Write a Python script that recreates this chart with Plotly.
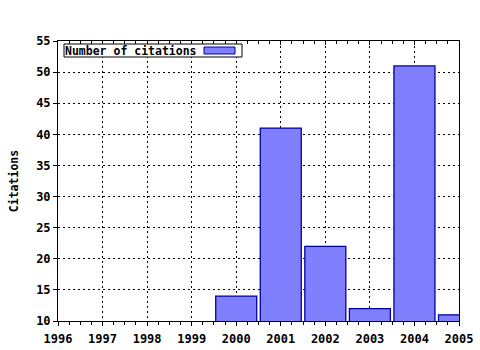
import plotly.graph_objects as go

years = [2000, 2001, 2002, 2003, 2004, 2005]
citations = [14, 41, 22, 12, 51, 11]
x_ticks = list(range(1996, 2006))
y_ticks = list(range(10, 56, 5))
series_name = "Number of citations"
y_title = "Citations"

FONT = dict(family="DejaVu Sans Mono", size=11.5, color="black", weight="bold")
TICKFONT = dict(family="DejaVu Sans Mono", size=12, color="black", weight="bold")

fig = go.Figure()
fig.add_trace(go.Bar(
    x=years, y=citations, width=0.92, name=series_name,
    marker=dict(color="#8080ff", line=dict(color="#0000a0", width=1.3)),
    showlegend=False,
))
fig.add_trace(go.Scatter(x=[1996, 2005], y=[10, 10], xaxis="x2", mode="markers",
                         marker=dict(opacity=0), showlegend=False, hoverinfo="skip"))

GRIDDASH = "2px,3px"
fig.update_layout(
    width=480, height=350,
    margin=dict(l=58, r=21, t=41, b=29, autoexpand=False),
    paper_bgcolor="white", plot_bgcolor="white",
    font=FONT,
    xaxis=dict(range=[1996, 2005], tickvals=x_ticks, ticktext=[str(v) for v in x_ticks],
               showgrid=True, gridcolor="black", griddash=GRIDDASH, gridwidth=1,
               ticks="outside", ticklen=4, tickcolor="black", ticklabelstandoff=3,
               minor=dict(dtick=0.25, ticks="outside", ticklen=3, tickcolor="black", showgrid=False),
               showline=True, linecolor="black", linewidth=1, mirror=True,
               zeroline=False, tickfont=TICKFONT, automargin=False),
    xaxis2=dict(range=[1996, 2005], overlaying="x", side="top", tickvals=x_ticks,
                showticklabels=False, ticks="inside", ticklen=4, tickcolor="black",
                minor=dict(dtick=0.25, ticks="inside", ticklen=3, tickcolor="black"),
                showgrid=False, zeroline=False, showline=False, automargin=False),
    yaxis=dict(range=[10, 55], tickvals=y_ticks, showgrid=True, gridcolor="black",
               griddash=GRIDDASH, gridwidth=1, ticks="outside", ticklen=4, tickcolor="black",
               showline=True, linecolor="black", linewidth=1, mirror=True,
               zeroline=False, tickfont=TICKFONT, automargin=False,
               title=dict(text=y_title, font=FONT, standoff=15)),
    bargap=0.08,
)

W, H = 401.0, 280.0
def px(x): return (x - 58) / W
def py(y): return (321 - y) / H

fig.add_shape(type="rect", xref="paper", yref="paper",
              x0=px(64), x1=px(242), y0=py(57), y1=py(44),
              line=dict(color="black", width=1), fillcolor="white", layer="above")
fig.add_shape(type="rect", xref="paper", yref="paper",
              x0=px(204), x1=px(235), y0=py(54), y1=py(47),
              line=dict(color="#0000a0", width=1), fillcolor="#8080ff", layer="above")
fig.add_annotation(text=series_name, xref="paper", yref="paper", x=px(63), y=py(50.5),
                   xanchor="left", yanchor="middle", showarrow=False, font=FONT)

fig.write_html("out.html")
